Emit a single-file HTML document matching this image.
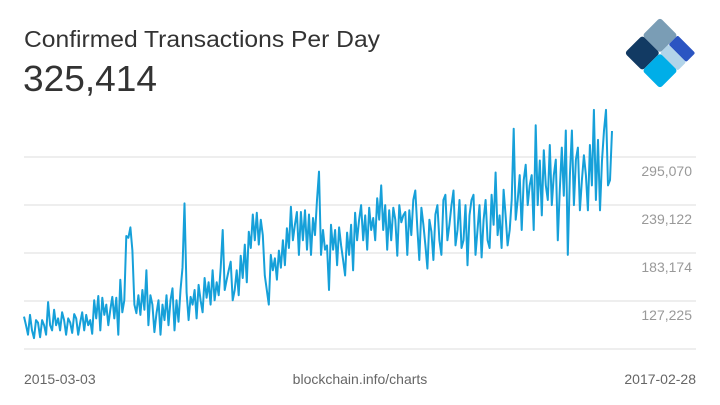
<!DOCTYPE html>
<html><head><meta charset="utf-8"><style>
body{margin:0;background:#fff;}
svg{display:block;font-family:"Liberation Sans",sans-serif;}
</style></head><body>
<svg id="chart" width="720" height="405" viewBox="0 0 720 405">
<text x="24" y="47" font-size="23" fill="#333" textLength="356" lengthAdjust="spacingAndGlyphs">Confirmed Transactions Per Day</text>
<text x="23" y="91" font-size="36" fill="#333" textLength="134" lengthAdjust="spacingAndGlyphs">325,414</text>
<g transform="translate(660,53) rotate(45)">
<rect x="-25" y="-25" width="25" height="25" rx="3" fill="#7a9db5"/>
<rect x="0" y="-25" width="25" height="13" rx="2" fill="#2b55c2"/>
<rect x="0" y="-12" width="25" height="12" rx="2" fill="#b2d4e9"/>
<rect x="-25" y="0" width="25" height="25" rx="3" fill="#123a63"/>
<rect x="0" y="0" width="25" height="25" rx="3" fill="#00aee8"/>
</g>
<g id="grid"></g>
<g id="ticks"></g>
<path id="line" fill="none" stroke="#16a0d9" stroke-width="2" stroke-linejoin="round"/>
<text x="24" y="384" font-size="14" fill="#666">2015-03-03</text>
<text x="360" y="384" font-size="14" fill="#666" text-anchor="middle">blockchain.info/charts</text>
<text x="696" y="384" font-size="14" fill="#666" text-anchor="end">2017-02-28</text>
</svg>
<script>
const startDate = "2015-03-03";
const endDate = "2017-02-28";
const tickValues = [127225, 183174, 239122, 295070];
const tickLabels = ["127,225", "183,174", "239,122", "295,070"];
const txThousands = [109,99,88,111,93,84,105,102,85,105,99,88,126,99,93,117,99,107,93,114,105,88,107,102,90,112,107,88,102,114,93,111,99,105,89,128,107,133,93,131,111,123,99,117,132,107,131,88,152,114,128,203,201,213,186,123,113,134,111,140,117,163,99,134,123,91,113,128,88,123,105,134,99,128,142,93,128,103,140,166,241,137,105,132,123,140,107,146,128,114,154,131,149,123,163,128,149,134,166,210,140,152,163,
173,128,140,163,134,180,154,193,149,208,189,228,198,230,193,222,204,157,140,123,181,163,177,152,186,166,198,169,212,189,237,198,216,231,181,231,198,233,187,228,181,224,204,245,278,181,210,187,192,140,216,187,210,169,213,192,175,157,207,181,216,163,230,198,222,239,198,227,187,236,210,224,198,247,222,262,210,239,187,233,198,236,222,180,239,219,227,231,181,233,204,245,256,213,175,236,216,192,165,
222,208,175,228,239,198,181,245,251,198,216,239,256,192,210,245,189,198,239,169,227,245,251,181,210,239,178,222,245,198,189,251,216,277,204,227,189,257,227,192,210,245,328,222,245,274,210,268,286,239,262,274,210,332,239,291,227,303,262,245,309,239,274,292,198,257,306,250,326,181,274,326,239,292,306,233,268,297,274,233,309,262,350,245,315,233,291,326,350,262,268,325.414];
const values = txThousands.map(v => v * 1000);

const X0 = 24, X1 = 612, Y0 = 349;
const t0 = Date.parse(startDate), t1 = Date.parse(endDate);
const yMin = 71277, yMax = 295070, yTop = 157;
function yScale(v){ return Y0 - (v - yMin) / (yMax - yMin) * (Y0 - yTop); }
function xScale(t){ return X0 + (t - t0) / (t1 - t0) * (X1 - X0); }
const ns = "http://www.w3.org/2000/svg";
const grid = document.getElementById('grid');
const ticks = document.getElementById('ticks');
const base = document.createElementNS(ns, 'line');
base.setAttribute('x1', 24); base.setAttribute('x2', 696);
base.setAttribute('y1', Y0); base.setAttribute('y2', Y0);
base.setAttribute('stroke', '#ddd');


grid.appendChild(base);
tickValues.forEach((v, i) => {
  const y = yScale(v);
  const l = document.createElementNS(ns, 'line');
  l.setAttribute('x1', 24); l.setAttribute('x2', 696);
  l.setAttribute('y1', y); l.setAttribute('y2', y);
  l.setAttribute('stroke', '#ddd');
  
  
  grid.appendChild(l);
  const t = document.createElementNS(ns, 'text');
  t.setAttribute('x', 692); t.setAttribute('y', y + 19);
  t.setAttribute('text-anchor', 'end');
  t.setAttribute('font-size', '14'); t.setAttribute('fill', '#999');
  t.textContent = tickLabels[i];
  
  
  ticks.appendChild(t);
});
const n = values.length;
let d = '';
values.forEach((v, i) => {
  const t = t0 + (t1 - t0) * i / (n - 1);
  d += (i ? 'L' : 'M') + xScale(t).toFixed(1) + ',' + yScale(v).toFixed(1);
});
document.getElementById('line').setAttribute('d', d);
</script>
</body></html>
